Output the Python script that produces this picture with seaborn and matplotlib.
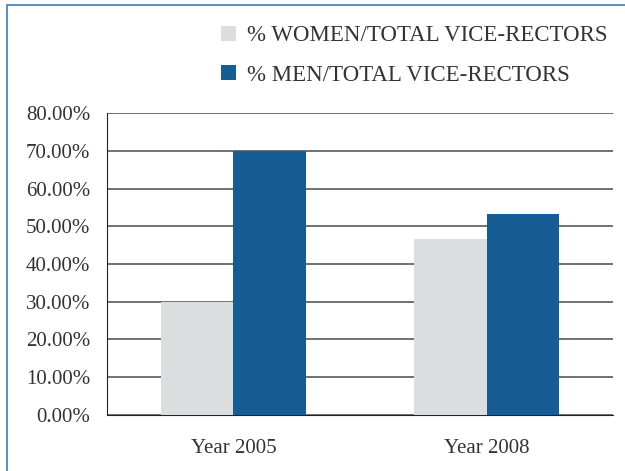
import pandas as pd
import seaborn as sb
import matplotlib.pyplot as plt
from matplotlib.patches import Rectangle
from matplotlib.ticker import FuncFormatter

years = ["Year 2005", "Year 2008"]
women = [30.0, 46.67]
men = [70.0, 53.33]
series = ["% WOMEN/TOTAL VICE-RECTORS", "% MEN/TOTAL VICE-RECTORS"]
colores = ["#dcdddf", "#165d96"]

datos = pd.DataFrame({
    "year": years * 2,
    "serie": [series[0]] * len(years) + [series[1]] * len(years),
    "valor": women + men,
})

plt.rcParams["font.family"] = ["Liberation Serif", "DejaVu Serif"]

fig = plt.figure(figsize=(6.25, 4.71), dpi=100)
ax = fig.add_axes([0.171, 0.119, 0.81, 0.641])

sb.barplot(data=datos, x="year", y="valor", hue="serie", palette=colores,
           width=0.57, saturation=1, ax=ax, zorder=3)

ax.set_ylim(0, 80)
ax.set_yticks(range(0, 81, 10))
ax.yaxis.set_major_formatter(FuncFormatter(lambda v, p: f"{v:.2f}%"))
ax.grid(axis="y", color="#4a4a4a", linewidth=1.1, zorder=0)
ax.set_axisbelow(True)
ax.set_xlabel("")
ax.set_ylabel("")
for lado in ["top", "right"]:
    ax.spines[lado].set_visible(False)
ax.spines["left"].set_color("#222222")
ax.spines["bottom"].set_color("#222222")
ax.tick_params(axis="y", length=0, labelsize=15, colors="#333333", pad=12)
ax.tick_params(axis="x", length=0, labelsize=15, colors="#333333", pad=17)

handles, labels = ax.get_legend_handles_labels()
ax.legend(handles, labels, loc="upper right", bbox_to_anchor=(1.005, 0.99),
          bbox_transform=fig.transFigure, frameon=False, fontsize=16.5,
          handlelength=0.65, handleheight=0.65, handletextpad=0.5,
          labelspacing=0.8, labelcolor="#333333")

# marco azul de la figura
fig.patches.append(Rectangle((0.011, -0.1), 1.2, 1.089, transform=fig.transFigure,
                             fill=False, edgecolor="#3d7ab8", linewidth=1.2))

fig.savefig("out.png", dpi=100)
